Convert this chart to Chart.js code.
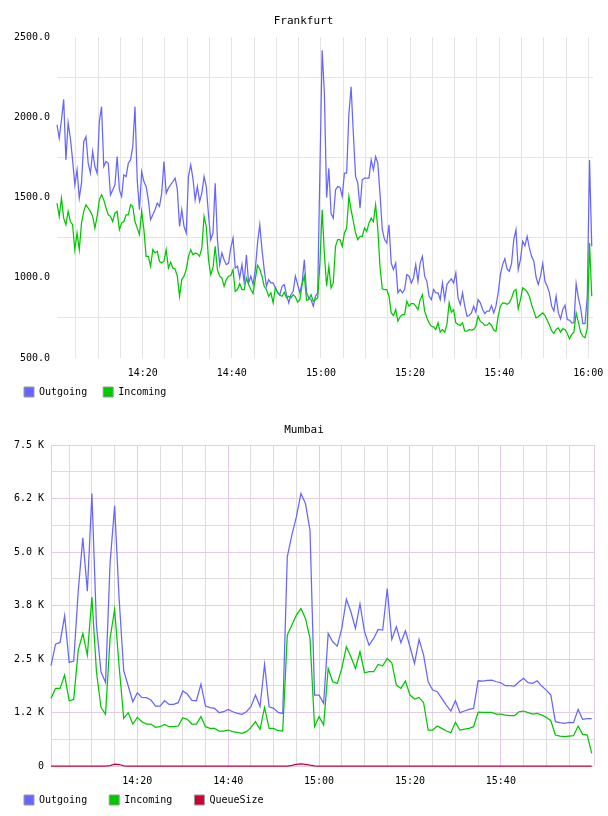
<!DOCTYPE html>
<html>
<head>
<meta charset="utf-8">
<script src="https://cdn.jsdelivr.net/npm/chart.js@4.4.0/dist/chart.umd.min.js"></script>
<style>
  html, body { margin: 0; padding: 0; background: #fff; }
  #wrap { position: relative; width: 608px; height: 816px; overflow: hidden; }
  canvas { position: absolute; left: 0; }
  #ffChart { top: 0; }
  #mbChart { top: 405px; }
</style>
</head>
<body>
<div id="wrap">
  <canvas id="ffChart" width="608" height="410"></canvas>
  <canvas id="mbChart" width="608" height="411"></canvas>
</div>
<script>
const BLUE = '#6666ff', GREEN = '#00c800', RED = '#cc0033';
const GRID = '#e4e4e4', GRID_MINOR = '#dddddd', GRID_MAJOR = '#e6cbe8';
const NONE = 'rgba(0,0,0,0)';

/* ── Frankfurt: a sample every 30 s, x in minutes after 14:00 ───────────── */
const ffStart = 0.77, ffStep = 0.5;
const ffOutgoing = [
  1953, 1870, 1984, 2112, 1735, 1967, 1870, 1735, 1580, 1673,
  1497, 1590, 1849, 1880, 1714, 1652, 1787, 1694, 1652, 1973,
  2067, 1694, 1725, 1714, 1517, 1548, 1580, 1756, 1548, 1507,
  1642, 1631, 1714, 1735, 1818, 2067, 1611, 1424, 1662, 1600,
  1569, 1486, 1362, 1393, 1424, 1466, 1445, 1528, 1725, 1528,
  1559, 1580, 1600, 1621, 1553, 1320, 1424, 1320, 1279, 1631,
  1704, 1621, 1486, 1569, 1476, 1528, 1631, 1569, 1393, 1238,
  1279, 1590, 1238, 1082, 1155, 1113, 1082, 1092, 1186, 1248,
  1061, 1072, 999, 1082, 972, 1144, 968, 1010, 958, 1051,
  1217, 1331, 1175, 1051, 947, 989, 968, 968, 937, 906,
  895, 947, 958, 895, 844, 895, 916, 1010, 958, 906,
  968, 1113, 906, 875, 864, 823, 885, 906, 1673, 2419,
  2150, 1500, 1683, 1400, 1372, 1548, 1569, 1565, 1507, 1652,
  1652, 2020, 2191, 1900, 1631, 1590, 1434, 1611, 1621, 1621,
  1621, 1735, 1673, 1756, 1714, 1517, 1300, 1238, 1217, 1331,
  1092, 1051, 1092, 906, 927, 906, 927, 1020, 1010, 968,
  999, 1082, 978, 1092, 1134, 1010, 978, 885, 864, 927,
  906, 906, 864, 968, 864, 958, 978, 993, 968, 1030,
  875, 833, 906, 823, 761, 765, 781, 823, 786, 864,
  844, 802, 777, 792, 792, 827, 781, 823, 906, 1020,
  1082, 1119, 1055, 1041, 1088, 1238, 1300, 1051, 1113, 1227,
  1200, 1258, 1186, 1134, 1103, 1005, 958, 1010, 1088, 978,
  947, 906, 823, 792, 885, 781, 744, 802, 829, 740,
  736, 719, 719, 964, 875, 813, 715, 715, 885, 1735,
  1196
];
const ffIncoming = [
  1466, 1383, 1497, 1372, 1331, 1414, 1351, 1331, 1175, 1279,
  1175, 1341, 1414, 1455, 1435, 1414, 1383, 1310, 1383, 1486,
  1518, 1486, 1435, 1393, 1383, 1351, 1403, 1414, 1300, 1341,
  1351, 1393, 1393, 1455, 1445, 1351, 1310, 1269, 1414, 1300,
  1134, 1134, 1072, 1175, 1155, 1165, 1103, 1092, 1103, 1175,
  1061, 1097, 1061, 1055, 1010, 885, 989, 1010, 1051, 1134,
  1175, 1144, 1155, 1150, 1134, 1186, 1383, 1320, 1113, 1020,
  1061, 1196, 1051, 1010, 999, 947, 989, 1010, 1014, 1051,
  916, 927, 964, 927, 927, 999, 958, 927, 902, 993,
  1078, 1055, 1010, 947, 927, 885, 906, 844, 937, 910,
  891, 885, 910, 875, 885, 875, 895, 881, 848, 864,
  958, 1010, 860, 864, 895, 854, 864, 875, 1092, 1424,
  1150, 947, 1072, 937, 968, 1196, 1238, 1238, 1196, 1279,
  1310, 1507, 1424, 1351, 1279, 1238, 1258, 1258, 1310, 1289,
  1341, 1372, 1351, 1455, 1300, 1061, 931, 927, 927, 885,
  781, 765, 802, 730, 757, 771, 771, 854, 823, 839,
  839, 823, 802, 864, 895, 792, 750, 719, 698, 694,
  678, 719, 661, 678, 661, 709, 844, 786, 802, 719,
  709, 703, 719, 667, 667, 678, 674, 678, 698, 761,
  728, 719, 703, 705, 719, 703, 674, 667, 761, 823,
  844, 842, 835, 844, 873, 916, 927, 806, 864, 937,
  927, 912, 885, 833, 792, 750, 757, 771, 781, 765,
  736, 705, 670, 653, 678, 688, 661, 682, 678, 653,
  620, 647, 661, 781, 724, 661, 636, 626, 688, 1217,
  885
];
const ffYTicks = [500, 750, 1000, 1250, 1500, 1750, 2000, 2250, 2500];
const ffYLabelAt = [500, 1000, 1500, 2000, 2500];
const ffYLabels = ['500.0', '1000.0', '1500.0', '2000.0', '2500.0'];
// last entry is the right edge of the plot: no line, no label
const ffXGrid = [5, 10, 15, 20, 25, 30, 35, 40, 45, 50, 55, 60, 65, 70, 75, 80, 85, 90, 95, 100, 105, 110, 115, 120, 121.05];
const ffXLabelAt = [20, 40, 60, 80, 100, 120];
const ffXLabels = ['14:20', '14:40', '15:00', '15:20', '15:40', '16:00'];

/* ── Mumbai: a sample every minute ─────────────────────────────────────── */
const mbStart = 1, mbStep = 1;
const mbOutgoing = [
  2344, 2850, 2889, 3512, 2422, 2453, 4100, 5334, 4088, 6369,
  3300, 2204, 1955, 4734, 6081, 3900, 2227, 1870, 1503, 1713,
  1604, 1596, 1542, 1402, 1402, 1526, 1440, 1440, 1480, 1752,
  1682, 1534, 1526, 1915, 1402, 1363, 1347, 1246, 1269, 1324,
  1269, 1230, 1207, 1269, 1386, 1659, 1386, 2375, 1386, 1347,
  1254, 1230, 4890, 5396, 5824, 6369, 6136, 5513, 1658, 1658,
  1464, 3099, 2904, 2803, 3216, 3900, 3605, 3216, 3790, 3138,
  2826, 2982, 3193, 3177, 4150, 2959, 3255, 2881, 3161, 2788,
  2398, 2959, 2593, 1970, 1775, 1736, 1581, 1425, 1285, 1526,
  1246, 1285, 1324, 1347, 1993, 1986, 2001, 2009, 1970, 1947,
  1877, 1877, 1869, 1970, 2048, 1947, 1931, 1993, 1869, 1775,
  1658, 1035, 1012, 997, 1020, 1012, 1324, 1090, 1106, 1106
];
const mbIncoming = [
  1581, 1814, 1814, 2126, 1526, 1557, 2710, 3099, 2593, 3950,
  2204, 1370, 1207, 2982, 3660, 2320, 1113, 1246, 981, 1137,
  1035, 981, 981, 903, 919, 973, 919, 919, 934, 1129,
  1090, 981, 981, 1153, 919, 880, 880, 818, 818, 841,
  802, 786, 763, 802, 896, 1035, 857, 1370, 880, 880,
  825, 818, 3060, 3294, 3527, 3680, 3450, 2982, 919, 1153,
  958, 2281, 1970, 1931, 2281, 2788, 2554, 2281, 2671, 2180,
  2204, 2204, 2375, 2344, 2515, 2414, 1892, 1814, 1986, 1658,
  1565, 1604, 1480, 841, 841, 934, 880, 818, 779, 1020,
  841, 864, 880, 919, 1261, 1254, 1254, 1254, 1215, 1215,
  1191, 1176, 1176, 1269, 1285, 1246, 1215, 1230, 1191, 1137,
  1059, 724, 701, 685, 701, 709, 934, 740, 724, 296
];
const mbQueue = [
  0, 0, 0, 0, 0, 0, 0, 0, 0, 0,
  0, 0, 0, 10, 45, 35, 5, 0, 0, 0,
  0, 0, 0, 0, 0, 0, 0, 0, 0, 0,
  0, 0, 0, 0, 0, 0, 0, 0, 0, 0,
  0, 0, 0, 0, 0, 0, 0, 0, 0, 0,
  0, 0, 0, 15, 40, 50, 40, 20, 5, 0,
  0, 0, 0, 0, 0, 0, 0, 0, 0, 0,
  0, 0, 0, 0, 0, 0, 0, 0, 0, 0,
  0, 0, 0, 0, 0, 0, 0, 0, 0, 0,
  0, 0, 0, 0, 0, 0, 0, 0, 0, 0,
  0, 0, 0, 0, 0, 0, 0, 0, 0, 0,
  0, 0, 0, 0, 0, 0, 0, 0, 0, 0
];
const mbYTicks = [0, 625, 1250, 1875, 2500, 3125, 3750, 4375, 5000, 5625, 6250, 6875, 7500];
const mbYLabelAt = [0, 1250, 2500, 3750, 5000, 6250, 7500];
const mbYLabels = ['0', '1.2 K', '2.5 K', '3.8 K', '5.0 K', '6.2 K', '7.5 K'];
const mbXGrid = [1, 5, 10, 15, 20, 25, 30, 35, 40, 45, 50, 55, 60, 65, 70, 75, 80, 85, 90, 95, 100, 105, 110, 115, 120.5];
const mbXLabelAt = [20, 40, 60, 80, 100];
const mbXLabels = ['14:20', '14:40', '15:00', '15:20', '15:40'];

/* ── helpers ────────────────────────────────────────────────────────────── */
Chart.defaults.font.family = "'DejaVu Sans Mono', monospace";
Chart.defaults.font.size = 10;
Chart.defaults.color = '#000';

const pts = (vals, start, step) => vals.map((v, i) => ({ x: start + i * step, y: v }));
const pick = (at, labels) => v => { const k = at.indexOf(v); return k < 0 ? '' : labels[k]; };
const fixTicks = vals => axis => { axis.ticks = vals.map(v => ({ value: v })); };

// legend: grey-edged swatches, trailing spaces widen the gap between entries
function legendItems(spaces) {
  return chart => Chart.defaults.plugins.legend.labels.generateLabels(chart)
    .sort((a, b) => a.datasetIndex - b.datasetIndex)
    .map(it => Object.assign(it, { text: it.text + spaces, strokeStyle: '#999', lineWidth: 1 }));
}

function series(label, color, data, order) {
  return { label, data, borderColor: color, backgroundColor: color, borderWidth: 1.25,
           pointRadius: 0, tension: 0, fill: false, order, clip: 2 };
}

function options(o) {
  return {
    responsive: false, animation: false, events: [],
    layout: { padding: o.pad },
    plugins: {
      title: { display: true, text: o.title, color: '#000', font: { size: 11, weight: 'normal' }, padding: o.titlePad },
      legend: { position: 'bottom', align: 'start',
                labels: { boxWidth: 10, boxHeight: 10, padding: 10, font: { size: 10 }, generateLabels: legendItems(o.legendSpaces) } },
      tooltip: { enabled: false }
    },
    scales: {
      x: { type: 'linear', min: o.xMin, max: o.xMax,
           afterBuildTicks: fixTicks(o.xGrid), afterFit: s => { s.height = 19; },
           ticks: { callback: pick(o.xLabelAt, o.xLabels), autoSkip: false, maxRotation: 0, padding: 9 },
           grid: { color: o.xGridColor, drawTicks: false }, border: { display: false } },
      y: { type: 'linear', min: o.yMin, max: o.yMax,
           afterBuildTicks: fixTicks(o.yTicks), afterFit: s => { s.width = o.yWidth; },
           ticks: { callback: pick(o.yLabelAt, o.yLabels), autoSkip: false, padding: 7 },
           grid: { color: o.yGridColor, drawTicks: false }, border: { display: false } }
    }
  };
}

/* ── Frankfurt ──────────────────────────────────────────────────────────── */
new Chart(document.getElementById('ffChart'), {
  type: 'line',
  data: { datasets: [
    series('Outgoing', BLUE, pts(ffOutgoing, ffStart, ffStep), 2),
    series('Incoming', GREEN, pts(ffIncoming, ffStart, ffStep), 1)
  ] },
  options: options({
    title: 'Frankfurt', pad: { left: 14, right: 15, top: 0, bottom: 3 }, yWidth: 43,
    titlePad: { top: 15, bottom: 9 }, legendSpaces: ' ',
    xMin: 0.77, xMax: 121.05, xGrid: ffXGrid, xLabelAt: ffXLabelAt, xLabels: ffXLabels,
    xGridColor: c => (c.tick && c.tick.value > 120) ? NONE : GRID,
    yMin: 500, yMax: 2500, yTicks: ffYTicks, yLabelAt: ffYLabelAt, yLabels: ffYLabels,
    yGridColor: c => (c.tick && c.tick.value % 500 === 0) ? NONE : GRID
  })
});

/* ── Mumbai ─────────────────────────────────────────────────────────────── */
const mbMajor = v => v === 1 || v === 120.5 || v % 20 === 0;
new Chart(document.getElementById('mbChart'), {
  type: 'line',
  data: { datasets: [
    series('Outgoing', BLUE, pts(mbOutgoing, mbStart, mbStep), 3),
    series('Incoming', GREEN, pts(mbIncoming, mbStart, mbStep), 2),
    series('QueueSize', RED, pts(mbQueue, mbStart, mbStep), 1)
  ] },
  options: options({
    title: 'Mumbai', pad: { left: 14, right: 14, top: 0, bottom: 1 }, yWidth: 37,
    titlePad: { top: 19, bottom: 8 }, legendSpaces: '  ',
    xMin: 1, xMax: 120.5, xGrid: mbXGrid, xLabelAt: mbXLabelAt, xLabels: mbXLabels,
    xGridColor: c => (c.tick && mbMajor(c.tick.value)) ? GRID_MAJOR : GRID_MINOR,
    yMin: 0, yMax: 7500, yTicks: mbYTicks, yLabelAt: mbYLabelAt, yLabels: mbYLabels,
    yGridColor: c => (c.tick && c.tick.value % 1250 === 0) ? GRID_MAJOR : GRID_MINOR
  })
});
</script>
</body>
</html>
